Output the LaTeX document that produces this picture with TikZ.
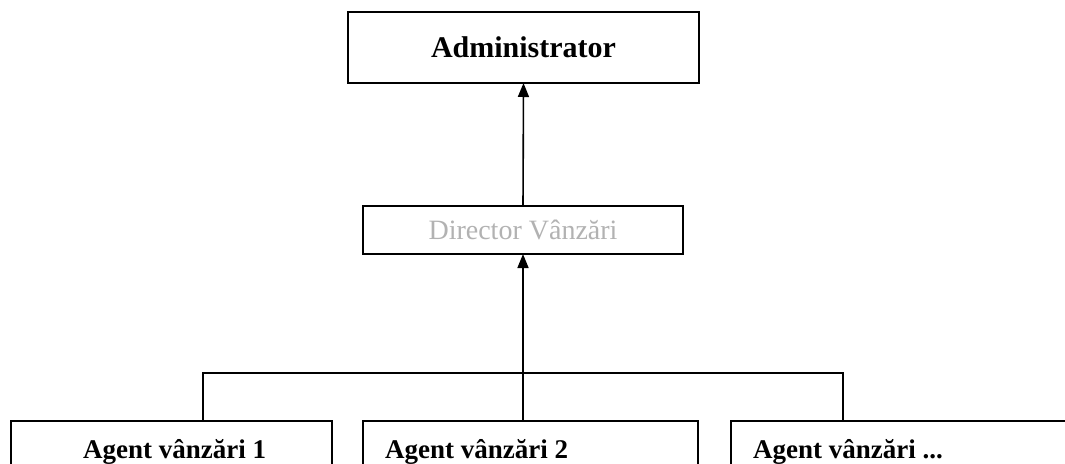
\documentclass[tikz,border=0pt]{standalone}
\usepackage{fontspec}
\setmainfont{Liberation Serif}
\usetikzlibrary{arrows.meta}
\begin{document}
\begin{tikzpicture}[x=1pt,y=-1pt,
  boxstyle/.style={draw=black,line width=1.7pt,rectangle,inner sep=0pt,outer sep=0pt},
  conn/.style={draw=black,line width=1.6pt},
  arr/.style={conn,-{Triangle[width=11pt,length=14pt]}},
  agenttext/.style={font=\fontsize{27}{32}\selectfont\bfseries,inner sep=0pt,anchor=base west}]
\useasboundingbox (0,0) rectangle (1065,463);
\clip (0,0) rectangle (1065,463);
\fill[white] (0,0) rectangle (1065,463);
% boxes
\node[boxstyle,minimum width=351pt,minimum height=71pt,
      font=\fontsize{30}{36}\selectfont\bfseries] (admin) at (523.5,47.5) {Administrator};
\node[boxstyle,minimum width=320pt,minimum height=48pt,
      font=\fontsize{28}{33}\selectfont,text=black!30] (mid) at (523,230) {Director Vânzări};
\node[boxstyle,minimum width=321pt,minimum height=99pt] (box1) at (171.5,470.5) {};
\node[boxstyle,minimum width=335pt,minimum height=99pt] (box2) at (530.5,470.5) {};
\node[boxstyle,minimum width=369pt,minimum height=99pt] (box3) at (915.5,470.5) {};
% texts
\node[agenttext] (t1) at (83,458) {Agent vânzări 1};
\node[agenttext] (t2) at (385,458) {Agent vânzări 2};
\node[agenttext] (t3) at (753,458) {Agent vânzări ...};
% connectors
\coordinate (busl) at (203,373);
\coordinate (busr) at (843,373);
\coordinate (busc) at (523,373);
\draw[arr] (mid.north) -- (admin.south);
\draw[arr] (busc) -- (mid.south);
\draw[conn] (box1.north -| busl) -- (busl) -- (busr) -- (box3.north -| busr);
\draw[conn] (box2.north -| busc) -- (busc);
\end{tikzpicture}
\end{document}
